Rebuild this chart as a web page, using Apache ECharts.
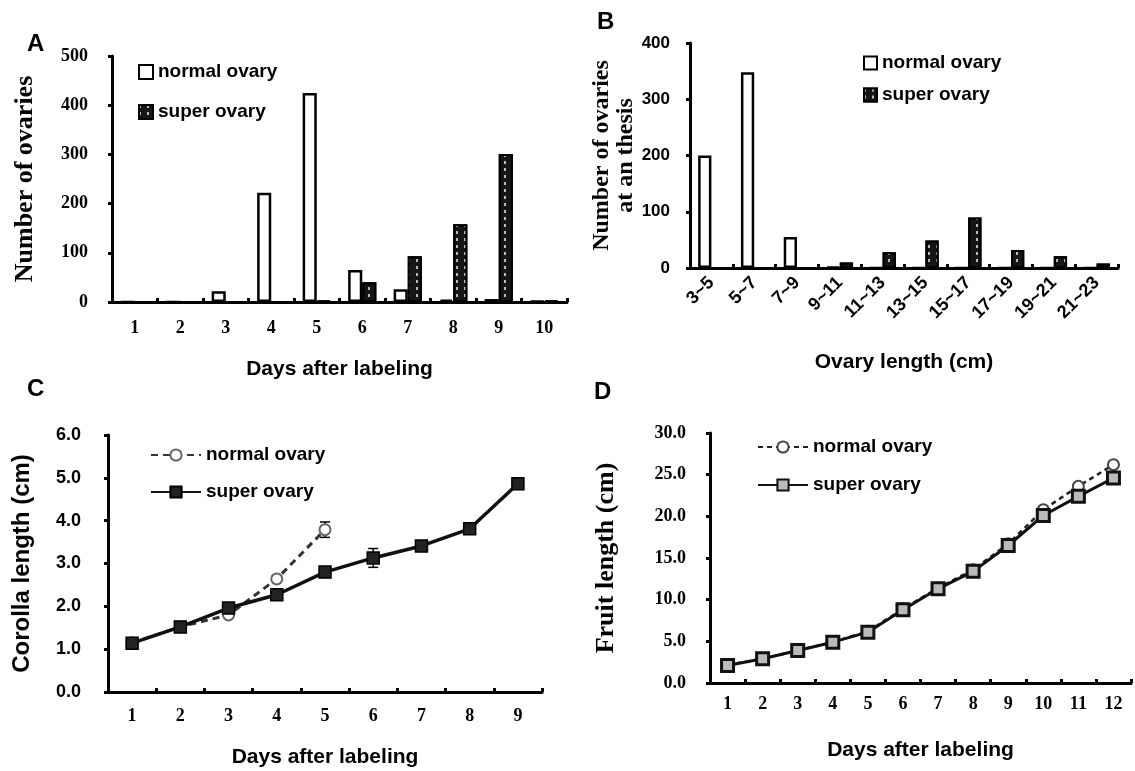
<!DOCTYPE html>
<html>
<head>
<meta charset="utf-8">
<script src="https://cdn.jsdelivr.net/npm/echarts@6/dist/echarts.min.js"></script>
<style>
html,body{margin:0;padding:0;background:#fff;}
#main{width:1135px;height:771px;}
</style>
</head>
<body>
<div id="main"></div>
<script>
// panel A - days after labeling
var daysA = ['1','2','3','4','5','6','7','8','9','10'];
var normalA = [0, 0, 22, 222, 425, 65, 26, 5, 6, 2];
var superA = [0, 0, 0, 0, 3, 40, 93, 158, 301, 3];
// panel B - ovary length at anthesis
var lengthB = ['3~5','5~7','7~9','9~11','11~13','13~15','15~17','17~19','19~21','21~23'];
var normalB = [200, 348, 55, 2, 0, 0, 0, 0, 0, 0];
var superB = [0, 0, 0, 10, 28, 49, 90, 32, 21, 8];
// panel C - corolla length
var daysC = ['1','2','3','4','5','6','7','8','9'];
var normalC = [1.15, 1.52, 1.80, 2.64, 3.79];
var normalErrC = [0.03, 0.04, 0.06, 0.08, 0.18];
var superC = [1.14, 1.52, 1.96, 2.27, 2.80, 3.13, 3.41, 3.81, 4.86];
var superErrC = [0.03, 0.04, 0.06, 0.07, 0.08, 0.22, 0.06, 0.08, 0.05];
// panel D - fruit length
var daysD = ['1','2','3','4','5','6','7','8','9','10','11','12'];
var normalD = [2.2, 2.9, 3.9, 4.9, 6.2, 8.9, 11.4, 13.6, 16.7, 20.8, 23.6, 26.2];
var superD = [2.1, 2.9, 3.9, 4.9, 6.1, 8.8, 11.3, 13.4, 16.5, 20.1, 22.4, 24.6];

var SERIF = 'Liberation Serif';
var SANS = 'Liberation Sans';

var chart = echarts.init(document.getElementById('main'));

function axisLine(){ return {show:true, lineStyle:{color:'#000', width:3}}; }
function tick(inside){ return {show:true, inside:inside, length:4, lineStyle:{color:'#000', width:3}}; }
function lbl(fam, size, margin){ return {color:'#000', fontFamily:fam, fontWeight:'bold', fontSize:size, margin:margin}; }
function nameStyle(fam, size){ return {color:'#000', fontFamily:fam, fontWeight:'bold', fontSize:size}; }

var superBarStyle = {
  color:'#161616', borderColor:'#000', borderWidth:2,
  decal:{symbol:'rect', symbolSize:1, color:'rgba(255,255,255,0.7)', dashArrayX:[2,6], dashArrayY:[3,4]}
};
var normalBarStyle = {color:'#fff', borderColor:'#000', borderWidth:2.5};

function errBars(vals, errs, xi, yi){
  var d = [];
  for (var i = 0; i < vals.length; i++) d.push([i, vals[i], errs[i]]);
  return {
    type:'custom', xAxisIndex:xi, yAxisIndex:yi, silent:true, z:1,
    data:d,
    renderItem:function(params, api){
      var x = api.value(0), y = api.value(1), e = api.value(2);
      var t = api.coord([x, y + e]), b = api.coord([x, y - e]);
      var w = 5, st = {stroke:'#000', lineWidth:1.5};
      return {type:'group', children:[
        {type:'line', shape:{x1:t[0], y1:t[1], x2:b[0], y2:b[1]}, style:st},
        {type:'line', shape:{x1:t[0]-w, y1:t[1], x2:t[0]+w, y2:t[1]}, style:st},
        {type:'line', shape:{x1:b[0]-w, y1:b[1], x2:b[0]+w, y2:b[1]}, style:st}
      ]};
    }
  };
}

function legendName(n){ return n.split(':')[1]; }
var legendText = {color:'#000', fontFamily:SANS, fontWeight:'bold', fontSize:19, lineHeight:20};

var option = {
  animation:false,
  backgroundColor:'#fff',
  title:[
    {text:'A', left:22, top:27, textStyle:{fontFamily:SANS, fontWeight:'bold', fontSize:24, color:'#000'}},
    {text:'B', left:592, top:5, textStyle:{fontFamily:SANS, fontWeight:'bold', fontSize:24, color:'#000'}},
    {text:'C', left:22, top:372, textStyle:{fontFamily:SANS, fontWeight:'bold', fontSize:24, color:'#000'}},
    {text:'D', left:589, top:375, textStyle:{fontFamily:SANS, fontWeight:'bold', fontSize:24, color:'#000'}}
  ],
  legend:[
    {data:['A:normal ovary','A:super ovary'], orient:'vertical', left:133, top:57, itemGap:20,
     icon:'rect', itemWidth:14, itemHeight:14, formatter:legendName, textStyle:legendText},
    {data:['B:normal ovary','B:super ovary'], orient:'vertical', left:858, top:48, itemGap:12,
     icon:'rect', itemWidth:13, itemHeight:13, formatter:legendName, textStyle:legendText},
    {data:['C:normal ovary','C:super ovary'], orient:'vertical', left:145, top:440, itemGap:17,
     itemWidth:50, itemHeight:14, formatter:legendName, textStyle:legendText},
    {data:['D:normal ovary','D:super ovary'], orient:'vertical', left:752, top:432, itemGap:18,
     itemWidth:50, itemHeight:14, formatter:legendName, textStyle:legendText}
  ],
  grid:[
    {left:112, right:568, top:56, bottom:469},
    {left:690, right:17, top:43, bottom:503},
    {left:108, right:593, top:435, bottom:79},
    {left:710, right:4, top:433, bottom:88}
  ],
  xAxis:[
    {type:'category', gridIndex:0, data:daysA, axisLine:axisLine(), axisTick:tick(true),
     axisLabel:lbl(SERIF, 18, 17), name:'Days after labeling', nameLocation:'middle', nameGap:57,
     nameTextStyle:nameStyle(SANS, 21)},
    {type:'category', gridIndex:1, data:lengthB, axisLine:axisLine(), axisTick:tick(true),
     axisLabel:Object.assign(lbl(SANS, 18, 12), {rotate:45, interval:0}), name:'Ovary length (cm)',
     nameLocation:'middle', nameGap:84, nameTextStyle:nameStyle(SANS, 21)},
    {type:'category', gridIndex:2, data:daysC, axisLine:axisLine(), axisTick:tick(true),
     axisLabel:lbl(SERIF, 18, 15), name:'Days after labeling', nameLocation:'middle', nameGap:55,
     nameTextStyle:nameStyle(SANS, 21)},
    {type:'category', gridIndex:3, data:daysD, axisLine:axisLine(), axisTick:tick(true),
     axisLabel:lbl(SERIF, 18, 12), name:'Days after labeling', nameLocation:'middle', nameGap:57,
     nameTextStyle:nameStyle(SANS, 21)}
  ],
  yAxis:[
    {type:'value', gridIndex:0, min:0, max:500, interval:100, splitLine:{show:false},
     axisLine:axisLine(), axisTick:tick(false), axisLabel:lbl(SERIF, 18, 24),
     name:'Number of ovaries', nameLocation:'middle', nameGap:74, nameTextStyle:nameStyle(SERIF, 26)},
    {type:'value', gridIndex:1, min:0, max:400, interval:100, splitLine:{show:false},
     axisLine:axisLine(), axisTick:tick(false), axisLabel:lbl(SANS, 17, 20),
     name:'Number of ovaries\nat an thesis', nameLocation:'middle', nameGap:51,
     nameTextStyle:Object.assign(nameStyle(SERIF, 24), {lineHeight:24, align:'center'})},
    {type:'value', gridIndex:2, min:0, max:6, interval:1, splitLine:{show:false},
     axisLine:axisLine(), axisTick:tick(false),
     axisLabel:Object.assign(lbl(SANS, 18, 27), {formatter:function(v){return v.toFixed(1);}}),
     name:'Corolla length (cm)', nameLocation:'middle', nameGap:74, nameTextStyle:nameStyle(SANS, 24)},
    {type:'value', gridIndex:3, min:0, max:30, interval:5, splitLine:{show:false},
     axisLine:axisLine(), axisTick:tick(false),
     axisLabel:Object.assign(lbl(SERIF, 18, 24), {formatter:function(v){return v.toFixed(1);}}),
     name:'Fruit length (cm)', nameLocation:'middle', nameGap:91, nameTextStyle:nameStyle(SERIF, 26)}
  ],
  series:[
    {name:'A:normal ovary', type:'bar', xAxisIndex:0, yAxisIndex:0, data:normalA,
     barGap:'0%', barCategoryGap:'38%', itemStyle:normalBarStyle},
    {name:'A:super ovary', type:'bar', xAxisIndex:0, yAxisIndex:0, data:superA,
     barGap:'0%', barCategoryGap:'38%', itemStyle:superBarStyle},
    {name:'B:normal ovary', type:'bar', xAxisIndex:1, yAxisIndex:1, data:normalB,
     barGap:'0%', barCategoryGap:'38%', itemStyle:normalBarStyle},
    {name:'B:super ovary', type:'bar', xAxisIndex:1, yAxisIndex:1, data:superB,
     barGap:'0%', barCategoryGap:'38%', itemStyle:superBarStyle},
    errBars(normalC, normalErrC, 2, 2),
    errBars(superC, superErrC, 2, 2),
    {name:'C:normal ovary', type:'line', xAxisIndex:2, yAxisIndex:2, data:normalC, z:3,
     symbol:'circle', symbolSize:11, showAllSymbol:true,
     lineStyle:{color:'#333', width:3, type:[7,5]},
     itemStyle:{color:'#fff', borderColor:'#666', borderWidth:2}},
    {name:'C:super ovary', type:'line', xAxisIndex:2, yAxisIndex:2, data:superC, z:4,
     symbol:'rect', symbolSize:12, showAllSymbol:true,
     lineStyle:{color:'#111', width:3.5},
     itemStyle:{color:'#222', borderColor:'#000', borderWidth:1.5}},
    {name:'D:normal ovary', type:'line', xAxisIndex:3, yAxisIndex:3, data:normalD, z:3,
     symbol:'circle', symbolSize:11, showAllSymbol:true,
     lineStyle:{color:'#222', width:2.5, type:[5,4]},
     itemStyle:{color:'#fff', borderColor:'#444', borderWidth:2}},
    {name:'D:super ovary', type:'line', xAxisIndex:3, yAxisIndex:3, data:superD, z:4,
     symbol:'rect', symbolSize:12, showAllSymbol:true,
     lineStyle:{color:'#111', width:3},
     itemStyle:{color:'#bbb', borderColor:'#111', borderWidth:3}}
  ]
};
chart.setOption(option);
</script>
</body>
</html>
